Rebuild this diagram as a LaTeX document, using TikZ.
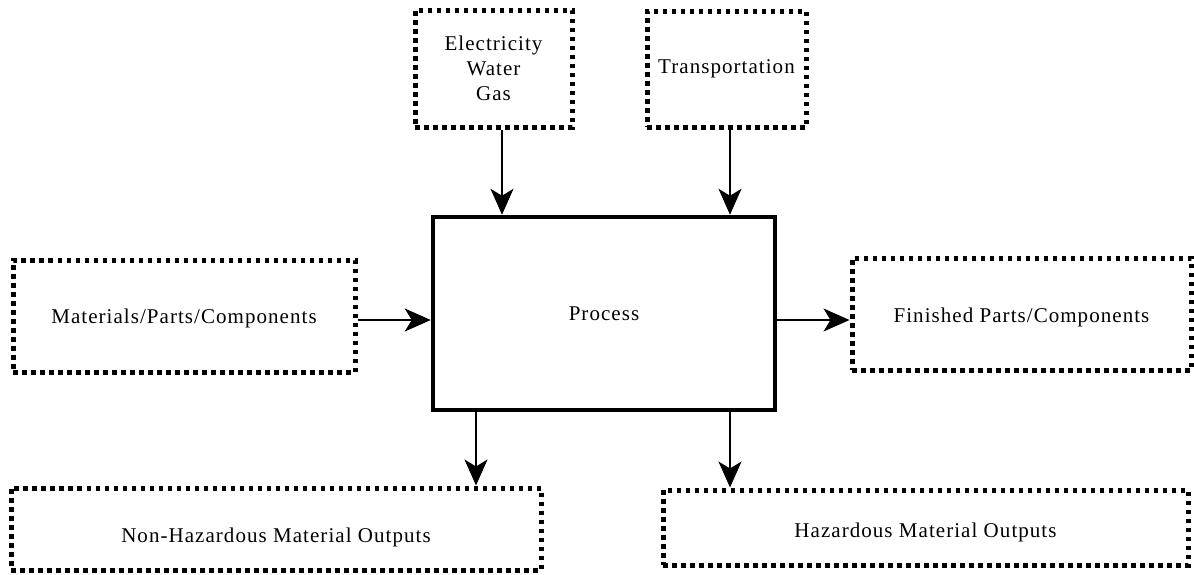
\documentclass[tikz,border=0pt]{standalone}
\usepackage{fontspec}
\setmainfont[LetterSpace=5]{Liberation Serif}
\usetikzlibrary{arrows.meta}
\newcommand{\lowertext}[2]{\raisebox{-#1}[\height][\depth]{#2}}
\begin{document}
\begin{tikzpicture}[x=1pt,y=-1pt,
  dotbox/.style={draw=black, line width=5pt, dash pattern=on 4.5pt off 4.5pt,
    rectangle, inner sep=0pt, align=center,
    font=\rmfamily\fontsize{21}{25}\selectfont},
  procbox/.style={draw=black, line width=4.5pt, rectangle, inner sep=0pt,
    font=\rmfamily\fontsize{21}{25}\selectfont},
  flow/.style={draw=black, line width=1.4pt,
    -{Stealth[length=26pt,width=23pt,inset=7pt]}}]
\useasboundingbox[fill=white] (0,0) rectangle (1194,574);
\node[procbox, minimum width=342pt, minimum height=193pt] (proc) at (604,313.5) {Process};
\node[dotbox, minimum width=157pt, minimum height=117pt] (elec) at (493.5,68.5) {Electricity\\Water\\Gas};
\node[dotbox, minimum width=159pt, minimum height=116pt] (trans) at (726.5,69) {Transportation};
\node[dotbox, minimum width=342pt, minimum height=112pt] (mat) at (184,316) {\lowertext{2pt}{Materials/Parts/Components}};
\node[dotbox, minimum width=339pt, minimum height=112pt] (fin) at (1021.5,314) {\lowertext{3pt}{Finished Parts/Components}};
\node[dotbox, minimum width=530pt, minimum height=82pt] (nonhaz) at (276,529) {\lowertext{8pt}{Non-Hazardous Material Outputs}};
\node[dotbox, minimum width=525pt, minimum height=75pt] (haz) at (925.5,527.5) {\lowertext{5pt}{Hazardous Material Outputs}};
\draw[flow] ([xshift=8.5pt]elec.south) -- ([xshift=8.5pt]elec.south |- proc.north);
\draw[flow] ([xshift=3.5pt]trans.south) -- ([xshift=3.5pt]trans.south |- proc.north);
\draw[flow] ([yshift=-4pt]mat.east) -- ([yshift=-4pt]mat.east -| proc.west);
\draw[flow] ([yshift=-6.5pt]proc.east) -- ([yshift=-6.5pt]proc.east -| fin.west);
\draw[flow] ([xshift=-128pt]proc.south) -- ([xshift=-128pt]proc.south |- nonhaz.north);
\draw[flow] ([xshift=126pt]proc.south) -- ([xshift=126pt]proc.south |- haz.north);
\end{tikzpicture}
\end{document}
